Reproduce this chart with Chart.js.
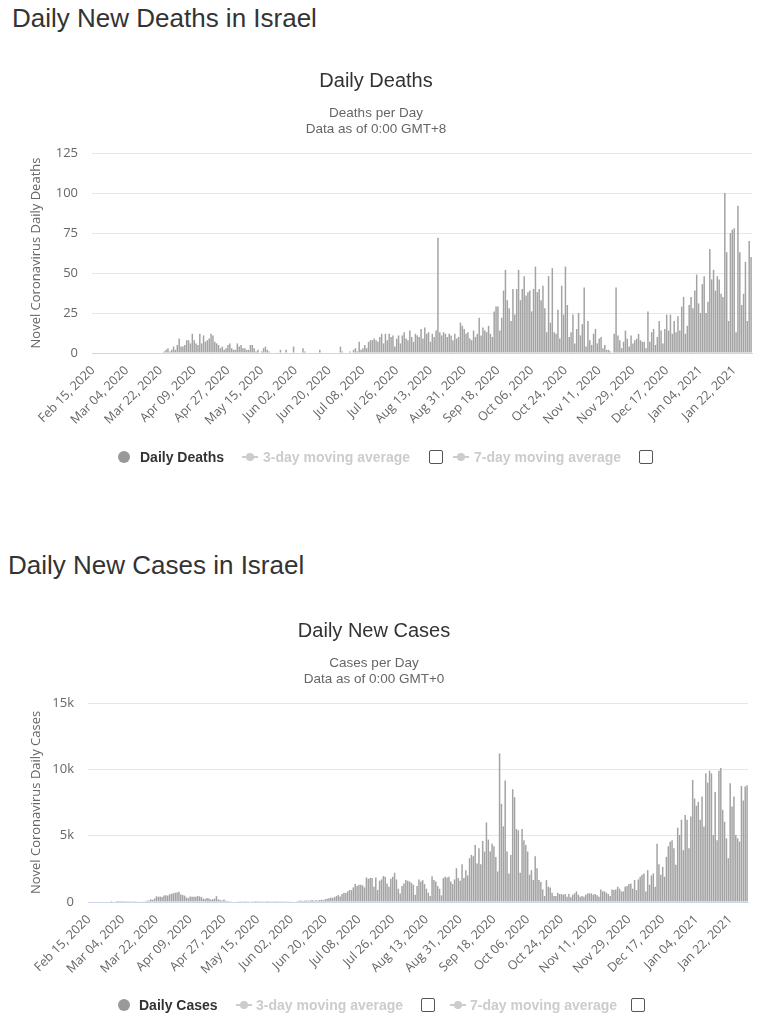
<!DOCTYPE html>
<html>
<head>
<meta charset="utf-8">
<title>Daily New Deaths and Cases in Israel</title>
<script src="https://cdn.jsdelivr.net/npm/chart.js@4.4.1/dist/chart.umd.min.js"></script>
<style>
body { margin: 0; background: #fff; width: 773px; height: 1023px; overflow: hidden; position: relative; font-family: "Liberation Sans", Arial, sans-serif; }
h2 { position: absolute; margin: 0; font-weight: normal; font-size: 26px; line-height: 30px; color: #333; white-space: nowrap; }
canvas { position: absolute; left: 0; }
.legend { position: absolute; left: 0; width: 773px; height: 20px; font-family: "Liberation Sans", Arial, sans-serif; font-weight: bold; font-size: 14px; line-height: 20px; }
.legend span { position: absolute; top: 0; white-space: nowrap; }
.legend .dot { top: 4px; width: 12px; height: 12px; border-radius: 6px; background: #999; }
.legend .on { color: #333; }
.legend .off { color: #ccc; }
.legend .icon { top: 9px; width: 16px; height: 2px; background: #ccc; }
.legend .icon:after { content: ""; position: absolute; left: 4px; top: -3px; width: 8px; height: 8px; border-radius: 4px; background: #ccc; }
.legend .box { top: 3px; width: 12px; height: 12px; border: 1px solid #555; border-radius: 2px; background: #fff; }
</style>
</head>
<body>

<h2 style="left:12px; top:3px">Daily New Deaths in Israel</h2>
<canvas id="deaths-chart" width="773" height="400" style="top:55px"></canvas>
<div class="legend" style="top:447px">
  <span class="dot" style="left:118px"></span>
  <span class="on" style="left:140px">Daily Deaths</span>
  <span class="icon" style="left:242px"></span>
  <span class="off" style="left:263px">3-day moving average</span>
  <span class="box" style="left:429px"></span>
  <span class="icon" style="left:453px"></span>
  <span class="off" style="left:474px">7-day moving average</span>
  <span class="box" style="left:639px"></span>
</div>

<h2 style="left:8px; top:550px">Daily New Cases in Israel</h2>
<canvas id="cases-chart" width="773" height="400" style="top:605px"></canvas>
<div class="legend" style="top:995px">
  <span class="dot" style="left:118px"></span>
  <span class="on" style="left:139px">Daily Cases</span>
  <span class="icon" style="left:236px"></span>
  <span class="off" style="left:256px">3-day moving average</span>
  <span class="box" style="left:421px"></span>
  <span class="icon" style="left:450px"></span>
  <span class="off" style="left:470px">7-day moving average</span>
  <span class="box" style="left:631px"></span>
</div>

<script>
// one value per day, Feb 15 2020 -> Jan 31 2021
var startDay = Date.UTC(2020, 1, 15);
var monthNames = ["Jan","Feb","Mar","Apr","May","Jun","Jul","Aug","Sep","Oct","Nov","Dec"];

var tickLabels = ["Feb 15, 2020","Mar 04, 2020","Mar 22, 2020","Apr 09, 2020","Apr 27, 2020",
  "May 15, 2020","Jun 02, 2020","Jun 20, 2020","Jul 08, 2020","Jul 26, 2020","Aug 13, 2020",
  "Aug 31, 2020","Sep 18, 2020","Oct 06, 2020","Oct 24, 2020","Nov 11, 2020","Nov 29, 2020",
  "Dec 17, 2020","Jan 04, 2021","Jan 22, 2021"];

var dailyDeaths = [
  0,0,0,0,0,0,0,0,0,0,
  0,0,0,0,0,0,0,0,0,0,
  0,0,0,0,0,0,0,0,0,0,
  0,0,0,0,0,0,0,0,1,2,
  3,1,2,4,2,5,9,4,4,5,
  8,8,6,12,8,6,5,12,6,11,
  7,8,9,12,11,7,6,5,3,4,
  2,3,5,6,3,2,2,6,4,5,
  3,3,2,2,5,5,3,1,2,0,
  1,3,4,2,1,0,0,0,0,0,
  2,0,0,2,0,0,0,4,0,0,
  0,0,3,1,0,0,0,0,0,0,
  0,2,0,0,0,0,0,0,0,0,
  0,0,4,1,0,0,0,1,0,2,
  3,1,7,2,3,5,3,7,8,8,
  9,8,7,10,12,6,12,8,12,10,
  11,4,9,11,6,11,13,9,8,14,
  10,7,12,11,10,15,9,16,12,13,
  7,12,10,14,72,13,11,13,12,10,
  12,11,8,12,9,10,19,17,15,12,
  13,9,8,14,10,12,22,11,16,14,
  13,17,12,10,26,29,29,14,22,39,
  52,33,28,20,40,24,40,52,33,40,
  48,36,38,39,26,40,54,38,40,33,
  42,28,13,48,19,53,13,12,27,9,
  42,24,54,30,10,13,24,6,15,25,
  11,18,41,4,20,8,5,12,15,6,
  9,10,3,5,2,2,1,0,12,41,
  11,8,3,7,14,9,4,11,6,8,
  9,12,8,7,7,3,26,7,13,15,
  5,10,20,14,6,15,24,14,24,12,
  20,13,23,14,29,35,12,17,30,35,
  28,39,49,31,25,43,48,25,32,65,
  46,52,39,48,46,37,35,100,63,20,
  75,77,78,13,92,63,30,37,57,20,
  70,60
];

var dailyCases = [
  0,0,0,0,0,0,0,0,0,0,
  0,0,1,0,0,2,3,2,5,3,
  7,10,12,21,11,25,25,30,45,50,
  60,95,120,200,170,260,430,390,420,380,
  490,510,480,570,620,660,700,720,780,560,
  520,480,340,290,420,390,400,390,460,420,
  370,250,230,300,260,190,210,250,440,200,
  150,120,180,90,70,60,50,40,30,30,
  20,15,25,10,15,20,30,15,10,8,
  10,12,20,15,10,8,10,15,20,15,
  10,15,20,25,15,20,30,25,30,35,
  40,60,90,110,80,100,120,90,110,150,
  100,130,110,150,170,140,200,250,280,330,
  300,380,450,520,420,600,700,680,800,900,
  900,1100,1350,1200,1300,1300,1250,1100,1850,1750,
  1800,1800,1150,1850,900,1600,1700,1950,1900,1400,
  1150,1750,1900,2200,1700,1000,650,1200,1400,1650,
  1600,1550,1450,1300,550,1200,1700,1550,1650,1350,
  1000,700,450,1950,1650,1550,1200,1000,500,1800,
  1900,1850,1900,1550,1350,1700,2550,1800,1600,2850,
  1800,2400,2000,3300,3550,3450,4300,2900,4050,2850,
  4600,3800,6000,4700,3800,4400,4200,3400,2300,11200,
  7400,5700,9150,3800,2150,3550,8500,7900,5500,5400,
  2200,5500,4650,4300,3800,2050,2400,1650,3450,2550,
  1650,1500,950,450,1650,1150,1100,700,450,450,
  700,600,600,550,600,400,600,350,550,650,
  800,550,400,450,400,550,650,650,650,550,
  600,500,400,950,800,800,700,600,450,950,
  900,950,1150,1000,800,800,1150,1200,1350,1400,
  1000,1650,900,1700,1900,2050,2150,800,2400,1300,
  2000,2150,1150,4400,2850,2050,2650,1900,3400,4200,
  4550,4650,4050,2800,5600,5050,6200,3900,6550,6200,
  4050,6450,9200,7800,7250,7550,6200,7950,5700,9700,
  9000,9900,9700,5050,8300,4650,9900,10100,6950,6050,
  4800,3300,8950,7200,7950,5050,4800,4550,8750,7650,
  8700,8800
];

var days = [];
for (var i = 0; i < dailyDeaths.length; i++) {
  var d = new Date(startDay + i * 86400000);
  var dd = d.getUTCDate();
  days.push(monthNames[d.getUTCMonth()] + " " + (dd < 10 ? "0" + dd : dd) + ", " + d.getUTCFullYear());
}

var titleFont = '"Liberation Sans", Arial, sans-serif';
var tickFont = '"Open Sans", sans-serif';

function barChart(canvas, values, opt) {
  return new Chart(canvas, {
    type: 'bar',
    data: {
      labels: days,
      datasets: [{
        label: opt.series,
        data: values,
        backgroundColor: '#a3a3a3',
        borderWidth: 0,
        barPercentage: 0.8,
        categoryPercentage: 1
      }]
    },
    options: {
      responsive: false,
      animation: false,
      layout: { padding: { left: 0, right: opt.padRight, top: 0, bottom: 0 } },
      plugins: {
        legend: { display: false },
        tooltip: { enabled: false },
        title: {
          display: true,
          text: opt.title,
          color: '#333',
          font: { family: titleFont, size: 20, weight: 'normal', lineHeight: 1.2 },
          padding: { top: 14, bottom: 0 }
        },
        subtitle: {
          display: true,
          text: opt.subtitle,
          color: '#666',
          font: { family: titleFont, size: 13.5, lineHeight: 16 / 13.5 },
          padding: { top: 12, bottom: 16 }
        }
      },
      scales: {
        x: {
          grid: { display: false, drawTicks: false },
          border: { color: '#ccd6eb', width: 1 },
          ticks: {
            autoSkip: false,
            minRotation: 45,
            maxRotation: 45,
            padding: 10,
            color: '#666',
            font: { family: tickFont, size: 12.5 },
            callback: function (v) {
              var l = this.getLabelForValue(v);
              return tickLabels.indexOf(l) >= 0 ? l : null;
            }
          },
          afterFit: function (s) { s.height = opt.xHeight; }
        },
        y: {
          min: 0,
          max: opt.max,
          grid: { color: '#e6e6e6', drawTicks: false },
          border: { display: false },
          ticks: {
            stepSize: opt.step,
            padding: 14,
            color: '#666',
            font: { family: tickFont, size: 13 },
            callback: opt.fmt
          },
          title: {
            display: true,
            text: opt.axisTitle,
            color: '#666',
            font: { family: tickFont, size: 13 },
            padding: { top: 28, bottom: 0 }
          },
          afterFit: function (s) { s.width = opt.yWidth; }
        }
      }
    }
  });
}

barChart(document.getElementById("deaths-chart"), dailyDeaths, {
  series: "Daily Deaths",
  title: "Daily Deaths",
  subtitle: ["Deaths per Day", "Data as of 0:00 GMT+8"],
  axisTitle: "Novel Coronavirus Daily Deaths",
  max: 125, step: 25,
  fmt: function (v) { return v; },
  yWidth: 92, padRight: 21, xHeight: 102
});

barChart(document.getElementById("cases-chart"), dailyCases, {
  series: "Daily Cases",
  title: "Daily New Cases",
  subtitle: ["Cases per Day", "Data as of 0:00 GMT+0"],
  axisTitle: "Novel Coronavirus Daily Cases",
  max: 15000, step: 5000,
  fmt: function (v) { return v === 0 ? "0" : (v / 1000) + "k"; },
  yWidth: 88, padRight: 25, xHeight: 103
});
</script>
</body>
</html>
